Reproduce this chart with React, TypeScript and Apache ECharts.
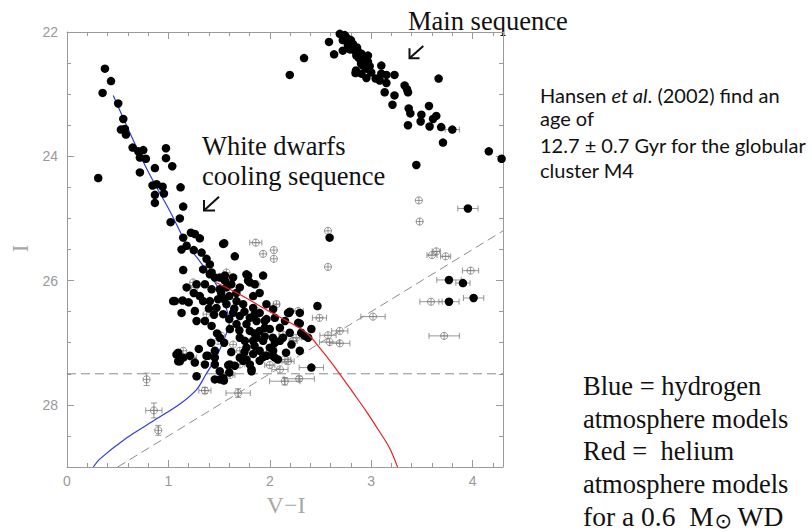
import React, { useEffect, useRef } from 'react';
import * as echarts from 'echarts';

// ---- data (V-I, I) ----
const wdUpper: number[][] = [
  [0.374,22.59],[0.434,22.79],[0.351,22.98],[0.505,23.15],[0.555,23.40],[0.532,23.57],[0.571,23.56],[0.581,23.65],
  [0.647,23.86],[0.703,23.92],[0.752,23.90],[0.719,24.02],[0.778,24.04],[0.719,24.26],[0.867,24.19],[0.976,23.87],
  [0.976,24.03],[1.038,24.16],[0.308,24.35],[0.844,24.47],[0.884,24.45],[0.943,24.49],[0.867,24.62],[0.956,24.60],
  [0.867,24.75],[1.12,24.50],[1.146,24.81],[1.113,25.0],[1.022,25.06],[1.146,25.31],[1.222,25.23],[1.261,25.25],
  [1.31,25.32],[1.13,25.50],[1.18,25.44],[1.25,25.51],[1.327,25.55],[1.376,25.65],[1.55,25.40],[1.655,25.61]
];
const wdCluster: number[][] = [
  [1.409,25.74],[1.343,25.82],[1.54,25.41],[1.146,25.83],[1.409,25.90],[1.458,25.95],[1.557,25.92],[1.638,25.95],
  [1.786,25.92],[1.934,25.92],[1.803,26.03],[1.852,26.06],[1.278,26.06],[1.18,26.11],[1.36,26.06],[1.426,26.14],
  [1.507,26.14],[1.573,26.11],[1.62,26.06],[1.704,26.11],[1.064,26.33],[1.14,26.32],[1.13,26.52],[1.31,26.25],
  [1.343,26.33],[1.409,26.33],[1.49,26.30],[1.474,26.44],[1.573,26.38],[1.672,26.33],[1.737,26.38],[1.836,26.44],
  [1.967,26.38],[1.90,26.52],[1.261,26.49],[1.54,26.54],[1.638,26.52],[1.704,26.57],[1.803,26.60],[1.36,26.65],
  [1.426,26.73],[1.672,26.70],[1.77,26.70],[1.869,26.65],[1.606,26.78],[1.803,26.81],[1.90,26.81],[2.0,26.78],
  [2.10,26.76],[2.18,26.52],[1.507,26.92],[1.704,26.92],[1.836,26.97],[1.934,26.97],[2.03,26.92],[2.13,26.92],
  [1.77,27.08],[1.90,27.13],[2.0,27.08],[1.097,27.16],[1.146,27.24],[1.212,27.21],[1.261,27.32],[1.376,27.21],
  [1.458,27.24],[1.704,27.24],[1.967,27.21],[1.803,27.35],[1.655,27.37],[1.90,27.29],[2.08,27.27],[2.16,27.16],
  [1.77,25.90],[1.786,26.0],[1.836,26.25],[2.033,26.46],[2.197,26.50],[2.296,26.52],[2.47,26.41],[1.967,26.62],
  [1.95,26.76],[2.28,26.68],[2.197,26.84],[2.31,26.84],[2.41,26.78],[2.345,26.89],[2.378,26.92],[1.754,26.97],
  [1.87,26.92],[2.10,26.97],[2.214,27.03],[2.033,27.13],[2.296,27.13],[1.95,27.21],[2.05,27.24],[1.836,27.18],
  [1.77,27.27],[1.82,27.43],[1.047,26.33],[1.278,26.65],[1.08,27.19],[1.113,27.30],[1.278,27.54],[1.36,27.35],
  [1.39,27.21],[1.458,27.13],[1.458,27.35],[1.507,27.46],[1.507,27.59],[1.547,27.61],[1.606,27.35],[1.737,27.29],
  [1.82,27.46],[2.296,26.69],[2.19,26.52],[1.458,27.59],[1.54,27.57],[1.59,27.36],[1.934,27.23],[2.03,27.21],
  [1.097,27.30],[1.52,26.2],[1.6,26.25],[1.65,26.45],[1.75,26.5],[1.85,26.55],[1.95,26.65],[1.6,26.62],
  [1.7,26.8],[1.85,26.85],[1.95,26.9],[2.05,27.0],[1.55,27.0],[1.62,27.15],[1.75,27.15],[1.85,27.05],
  [1.55,26.3],[1.45,26.55],[1.4,26.45],[1.2,26.35],[1.25,26.2],[1.67,26.2],[1.9,26.2],[2.05,26.6],
  [2.15,26.65],[1.48,26.85],[1.42,27.0],[1.3,27.1],[1.6,27.48],[1.426,25.87],[1.507,25.95],[1.557,26.0]
];
const mainSeq: number[][] = [
  [2.197,22.69],[2.338,22.42],[2.584,22.16],[2.634,22.36],[2.69,22.03],[2.739,22.05],[2.77,22.11],[2.72,22.13],
  [2.80,22.13],[2.82,22.19],[2.77,22.21],[2.72,22.30],[2.79,22.28],[2.837,22.30],[2.87,22.31],[2.903,22.35],
  [2.854,22.38],[2.968,22.38],[2.936,22.43],[2.903,22.47],[2.968,22.48],[2.92,22.54],[2.985,22.55],[2.953,22.59],
  [2.845,22.66],[2.903,22.67],[2.953,22.74],[3.0,22.65],[3.044,22.75],[3.10,22.54],[3.10,22.67],[3.15,22.69],
  [3.084,22.78],[3.15,22.82],[3.133,22.97],[3.23,22.69],[3.23,23.02],[3.21,23.17],[3.33,22.86],[3.353,22.92],
  [3.363,22.97],[3.665,22.75],[3.37,23.23],[3.386,23.31],[3.495,23.33],[3.57,23.19],[3.488,23.44],[3.363,23.50],
  [3.576,23.52],[3.61,23.40],[3.642,23.35],[3.69,23.53],[3.708,23.78],[4.16,23.92],[4.286,24.04],[3.445,24.14],
  [2.75,22.08],[2.79,22.22],[2.86,22.25],[2.88,22.42],[2.90,22.51],[2.85,22.62]
];
// black dots carrying colour error bars: [V-I, I, sigma(V-I)]
const barredDots: number[][] = [
  [3.80,23.57,0.07],[3.954,24.84,0.1],[2.59,25.31,0],[3.767,25.99,0.12],[3.905,26.04,0.07],
  [3.767,26.34,0.1],[4.01,26.28,0.1],[2.41,27.40,0.12]
];
// open symbols: [V-I, I, sigma(V-I), sigma(I)]
const openPts: number[][] = [
  [1.862,25.39,0.06,0],[1.934,25.57,0,0],[2.04,25.51,0,0],[2.04,25.65,0,0],[2.574,25.20,0,0],[2.574,25.78,0,0],
  [3.47,24.71,0,0],[3.478,25.05,0,0],[3.642,25.53,0.04,0],[3.60,25.59,0.05,0],[3.734,25.61,0.05,0],[3.98,25.84,0.08,0],
  [3.59,26.34,0.11,0],[3.72,26.89,0.15,0],[2.066,26.38,0.03,0],[2.49,26.60,0.07,0],[2.574,26.88,0.08,0],
  [2.69,26.81,0.08,0],[2.69,27.01,0.1,0],[2.59,26.99,0.1,0],[1.87,26.49,0,0],[3.018,26.58,0.12,0],[2.28,26.49,0.05,0],
  [1.244,26.03,0,0],[1.261,26.11,0,0],[1.573,25.87,0,0],[1.869,26.06,0,0],[1.852,26.52,0,0],[2.26,26.92,0.05,0],
  [2.23,26.97,0.04,0],[2.148,27.27,0.06,0],[2.18,27.30,0.06,0],[2.0,27.36,0.05,0],[1.704,27.13,0,0],[1.638,27.03,0,0],
  [1.49,26.97,0,0],[1.524,26.89,0,0],[1.836,26.95,0,0],[1.704,27.35,0.05,0],[1.606,27.52,0.05,0],[2.13,26.87,0.04,0],
  [2.017,27.11,0.05,0],[1.376,26.54,0,0],[1.228,27.24,0.05,0],[1.146,27.13,0,0],[2.10,27.43,0.08,0],
  [0.785,27.59,0,0.1],[0.857,28.09,0.08,0.12],[0.90,28.41,0,0.08],[1.36,27.77,0.06,0.05],[1.688,27.81,0.12,0.07],
  [2.148,27.62,0.15,0.06],[2.29,27.58,0.15,0.04]
];
// cooling models
const hydrogenModel: number[][] = [
  [0.456,23.02],[0.78,24.18],[1.014,24.88],[1.18,25.41],[1.31,25.69],[1.47,26.06],[1.573,26.46],[1.6,26.68],
  [1.57,26.86],[1.47,27.24],[1.37,27.51],[1.28,27.75],[1.11,27.99],[0.85,28.26],[0.59,28.53],[0.325,28.87],[0.26,29.0]
];
const heliumModel: number[][] = [
  [1.47,26.03],[1.70,26.22],[2.0,26.5],[2.3,26.77],[2.4,26.9],[2.49,27.08],[2.56,27.22],[2.68,27.48],
  [2.82,27.8],[2.95,28.1],[3.07,28.4],[3.18,28.69],[3.26,29.0]
];
const magLimit: number[][] = [[0,27.5],[4.3,27.5]];
const colourLimit: number[][] = [[0.5,29],[4.3,25.2]];
const xTickValues = [0,1,2,3,4];
const yTickValues = [22,24,26,28];

const SERIF = '"Liberation Serif", "Times New Roman", serif';
const SANS = 'Lato, "Open Sans", sans-serif';
const GREY = '#7d7d7d';

function barsFor(api: any, x: number, y: number, xe: number, ye: number, color: string) {
  const [cx, cy] = api.coord([x, y]);
  const st = { stroke: color, lineWidth: 0.8, fill: 'none' };
  const kids: any[] = [];
  if (xe > 0) {
    const x1 = api.coord([x - xe, y])[0];
    const x2 = api.coord([x + xe, y])[0];
    kids.push({ type: 'line', shape: { x1, y1: cy, x2, y2: cy }, style: st });
    kids.push({ type: 'line', shape: { x1, y1: cy - 3, x2: x1, y2: cy + 3 }, style: st });
    kids.push({ type: 'line', shape: { x1: x2, y1: cy - 3, x2, y2: cy + 3 }, style: st });
  }
  if (ye > 0) {
    const y1 = api.coord([x, y - ye])[1];
    const y2 = api.coord([x, y + ye])[1];
    kids.push({ type: 'line', shape: { x1: cx, y1, x2: cx, y2 }, style: st });
    kids.push({ type: 'line', shape: { x1: cx - 3, y1, x2: cx + 3, y2: y1 }, style: st });
    kids.push({ type: 'line', shape: { x1: cx - 3, y1: y2, x2: cx + 3, y2 }, style: st });
  }
  return { kids, cx, cy, st };
}

export default function App() {
  const ref = useRef<HTMLDivElement>(null);
  useEffect(() => {
    if (!ref.current) return;
    const chart = echarts.init(ref.current, undefined, { renderer: 'svg' });

    const ctx = document.createElement('canvas').getContext('2d')!;
    ctx.font = '27.5px "Liberation Serif"';
    const lastLine = 'for a 0.6  M';
    const wFor = ctx.measureText(lastLine).width;

    const axisCommon = (show: boolean) => ({
      type: 'value' as const,
      axisLine: { show: true, onZero: false, lineStyle: { color: '#9a9a9a', width: 1 } },
      axisTick: { show: true, inside: true, length: 7, lineStyle: { color: '#9a9a9a' } },
      minorTick: { show: true, length: 4, lineStyle: { color: '#9a9a9a' } },
      splitLine: { show: false },
      axisLabel: { show },
    });

    const textEl = (text: string, x: number, y: number, size: number, family: string, extra: any = {}) => ({
      type: 'text', x, y,
      style: { text, fontSize: size, fontFamily: family, fill: '#111', align: 'left', verticalAlign: 'middle', ...extra },
    });

    const option: any = {
      animation: false,
      backgroundColor: '#fff',
      grid: { left: 67, right: 309, top: 32, bottom: 65 },
      xAxis: [
        { ...axisCommon(true), position: 'bottom', min: 0, max: 4.3, interval: 1,
          minorTick: { show: true, splitNumber: 5, length: 4, lineStyle: { color: '#9a9a9a' } },
          axisLabel: { show: true, color: '#999', fontSize: 14, fontFamily: '"Liberation Sans", sans-serif', margin: 7,
            formatter: (v: number) => (xTickValues.includes(v) ? String(v) : '') } },
        { ...axisCommon(false), position: 'top', min: 0, max: 4.3, interval: 1,
          minorTick: { show: true, splitNumber: 5, length: 4, lineStyle: { color: '#9a9a9a' } } },
      ],
      yAxis: [
        { ...axisCommon(true), position: 'left', min: 22, max: 29, interval: 2, inverse: true,
          minorTick: { show: true, splitNumber: 4, length: 4, lineStyle: { color: '#9a9a9a' } },
          axisLabel: { show: true, color: '#999', fontSize: 14, fontFamily: '"Liberation Sans", sans-serif', margin: 9,
            formatter: (v: number) => (yTickValues.includes(v) ? String(v) : '') } },
        { ...axisCommon(false), position: 'right', min: 22, max: 29, interval: 2, inverse: true,
          minorTick: { show: true, splitNumber: 4, length: 4, lineStyle: { color: '#9a9a9a' } } },
      ],
      series: [
        { type: 'line', data: magLimit, showSymbol: false, silent: true, z: 1,
          lineStyle: { color: '#8c8c8c', width: 1, type: [9, 5] } },
        { type: 'line', data: colourLimit, showSymbol: false, silent: true, z: 1,
          lineStyle: { color: '#8c8c8c', width: 1, type: [9, 5] } },
        { type: 'line', data: hydrogenModel, showSymbol: false, smooth: 0.3, silent: true, z: 2,
          lineStyle: { color: '#2f3de0', width: 1.2 } },
        { type: 'custom', z: 3, silent: true, data: openPts, encode: { x: 0, y: 1 },
          renderItem: (_p: any, api: any) => {
            const x = api.value(0), y = api.value(1);
            const { kids, cx, cy, st } = barsFor(api, x, y, api.value(2), api.value(3), GREY);
            kids.push({ type: 'circle', shape: { cx, cy, r: 3.6 }, style: { ...st, fill: 'rgba(255,255,255,0)' } });
            kids.push({ type: 'line', shape: { x1: cx - 3.6, y1: cy, x2: cx + 3.6, y2: cy }, style: st });
            kids.push({ type: 'line', shape: { x1: cx, y1: cy - 3.6, x2: cx, y2: cy + 3.6 }, style: st });
            return { type: 'group', children: kids };
          } },
        { type: 'custom', z: 3, silent: true, data: barredDots, encode: { x: 0, y: 1 },
          renderItem: (_p: any, api: any) => {
            const { kids } = barsFor(api, api.value(0), api.value(1), api.value(2), 0, GREY);
            return { type: 'group', children: kids };
          } },
        { type: 'scatter', data: [...wdUpper, ...wdCluster, ...mainSeq, ...barredDots.map(d => [d[0], d[1]])],
          symbolSize: 8.5, silent: true, z: 4, itemStyle: { color: '#000', opacity: 1 } },
        { type: 'line', data: heliumModel, showSymbol: false, smooth: 0.3, silent: true, z: 5,
          lineStyle: { color: '#e82020', width: 1.2 } },
      ],
      graphic: [
        // axis titles
        { type: 'text', x: 286, y: 505, style: { text: 'V\u2212I', fontSize: 24, fontFamily: SERIF, fill: '#a8a8a8', align: 'center', verticalAlign: 'middle' } },
        { type: 'text', x: 20.5, y: 248.5, rotation: Math.PI / 2, style: { text: 'I', fontSize: 23, fontFamily: SERIF, fill: '#a8a8a8', align: 'center', verticalAlign: 'middle' } },
        // annotations
        textEl('Main sequence', 408, 21, 26.5, SERIF),
        { type: 'polyline', shape: { points: [[423.3, 46], [409.5, 58.3]] }, style: { stroke: '#111', lineWidth: 2, fill: 'none' } },
        { type: 'polyline', shape: { points: [[419.5, 58.3], [409.5, 58.3], [409.5, 48.3]] }, style: { stroke: '#111', lineWidth: 2, fill: 'none' } },
        textEl('White dwarfs', 202, 145.5, 26.5, SERIF),
        textEl('cooling sequence', 202, 176, 26.5, SERIF),
        { type: 'polyline', shape: { points: [[219, 196.7], [204, 210.5]] }, style: { stroke: '#111', lineWidth: 2, fill: 'none' } },
        { type: 'polyline', shape: { points: [[215, 210.5], [204, 210.5], [204, 200]] }, style: { stroke: '#111', lineWidth: 2, fill: 'none' } },
        { type: 'text', x: 540, y: 95, style: { text: 'Hansen {i|et al}. (2002) find an', fontSize: 20, fontFamily: SANS, fill: '#111', align: 'left', verticalAlign: 'middle',
          rich: { i: { fontStyle: 'italic', fontSize: 20, fontFamily: SANS, fill: '#111' } } } },
        textEl('age of', 540, 118, 20, SANS),
        textEl('12.7 \u00b1 0.7 Gyr for the globular', 540, 145, 20, SANS),
        textEl('cluster M4', 540, 170, 20, SANS),
        textEl('Blue = hydrogen', 583, 386, 26.5, SERIF),
        textEl('atmosphere models', 583, 418.6, 26.5, SERIF),
        textEl('Red =  helium', 583, 451.2, 26.5, SERIF),
        textEl('atmosphere models', 583, 483.8, 26.5, SERIF),
        textEl(lastLine, 583, 516.4, 27.5, SERIF),
        textEl('\u2299', 583 + wFor + 1, 520.5, 21, '"DejaVu Sans", sans-serif'),
        textEl('WD', 583 + wFor + 24, 516.4, 27.5, SERIF),
      ],
    };
    chart.setOption(option);
    return () => chart.dispose();
  }, []);
  return <div ref={ref} style={{ position: 'fixed', left: 0, top: 0, width: 812, height: 532, background: '#fff' }} />;
}
